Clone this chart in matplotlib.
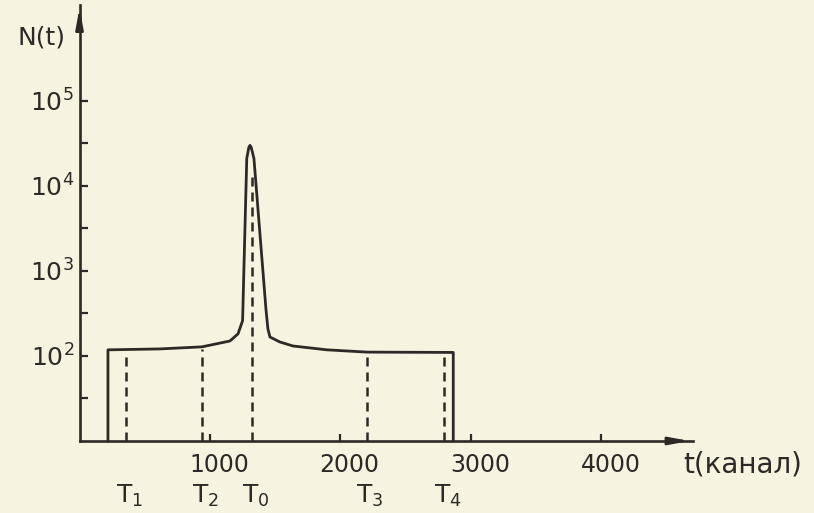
import matplotlib
matplotlib.use("Agg")
import matplotlib.pyplot as plt

# spectrum N(t) (t in channels)
curve_t = [218, 218, 617, 939, 1153, 1215, 1250, 1282, 1298, 1307, 1316, 1337, 1429, 1444, 1460, 1536, 1636, 1897, 2203, 2865, 2865]
curve_n = [10, 118, 121, 128, 150, 182, 260, 21000, 28500, 30000, 28500, 21000, 357, 208, 167, 146, 131, 118, 111, 110, 10]

# dashed markers T1, T2, T0, T3, T4
mark_t = [360, 939, 1322, 2200, 2795]
mark_top = [113, 122, 15000, 105, 105]
mark_names = ["T_1", "T_2", "T_0", "T_3", "T_4"]

xticks = [1000, 2000, 3000, 4000]
yticks = [1e2, 1e3, 1e4, 1e5]
yticks_minor = [10**1.5, 10**2.5, 10**3.5, 10**4.5]
ytick_labels = ["$10^2$", "$10^3$", "$10^4$", "$10^5$"]

ink = "#2d2926"
paper = "#f6f4e1"

plt.rcParams['mathtext.fontset'] = 'dejavusans'

fig = plt.figure(figsize=(8.14, 5.13), dpi=100, facecolor=paper)
ax = fig.add_axes([0.0977, 0.1404, 0.7532, 0.85])
ax.set_facecolor(paper)

ax.set_yscale("log")
ax.set_xlim(0, 4700)
ax.set_ylim(10, 10**6.129)

ax.plot(curve_t, curve_n, color=ink, linewidth=2.0, solid_joinstyle="round", clip_on=False)
for t, top in zip(mark_t, mark_top):
    ax.plot([t, t], [10, top], color=ink, linewidth=1.8, linestyle=(0, (3.6, 2.4)))

for side in ["top", "right"]:
    ax.spines[side].set_visible(False)
for side in ["left", "bottom"]:
    ax.spines[side].set_color(ink)
    ax.spines[side].set_linewidth(1.9)

# arrow heads at the axis ends
ax.annotate("", xy=(1.0, 0), xytext=(0.96, 0), xycoords="axes fraction",
            arrowprops=dict(arrowstyle="-|>,head_length=1.2,head_width=0.22", color=ink, lw=1.9))
ax.annotate("", xy=(0, 1.0), xytext=(0, 0.95), xycoords="axes fraction",
            arrowprops=dict(arrowstyle="-|>,head_length=1.2,head_width=0.22", color=ink, lw=1.9))

ax.set_yticks(yticks)
ax.set_yticklabels(ytick_labels, fontsize=18, color=ink)
ax.set_yticks(yticks_minor, minor=True)
ax.set_yticklabels([], minor=True)
ax.tick_params(axis="y", which="both", direction="in", length=6, width=1.6, color=ink)
ax.tick_params(axis="y", which="major", pad=4)

ax.set_xticks(xticks)
ax.set_xticklabels([])
ax.tick_params(axis="x", direction="in", length=5, width=1.6, color=ink)

for t in xticks:
    ax.text(t + 70, -0.055, str(t), transform=ax.get_xaxis_transform(),
            ha="center", va="center", fontsize=17, color=ink)

for t, name in zip(mark_t, mark_names):
    ax.text(t + 25, -0.125, "$\\mathregular{" + name + "}$", transform=ax.get_xaxis_transform(),
            ha="center", va="center", fontsize=18, color=ink)

ax.text(0.985, -0.055, "t(канал)", transform=ax.transAxes,
        ha="left", va="center", fontsize=20, color=ink)
fig.text(42 / 814, 1 - 37 / 513, "N(t)", ha="center", va="center", fontsize=18, color=ink)

fig.savefig("out.png", dpi=100, facecolor=paper)
